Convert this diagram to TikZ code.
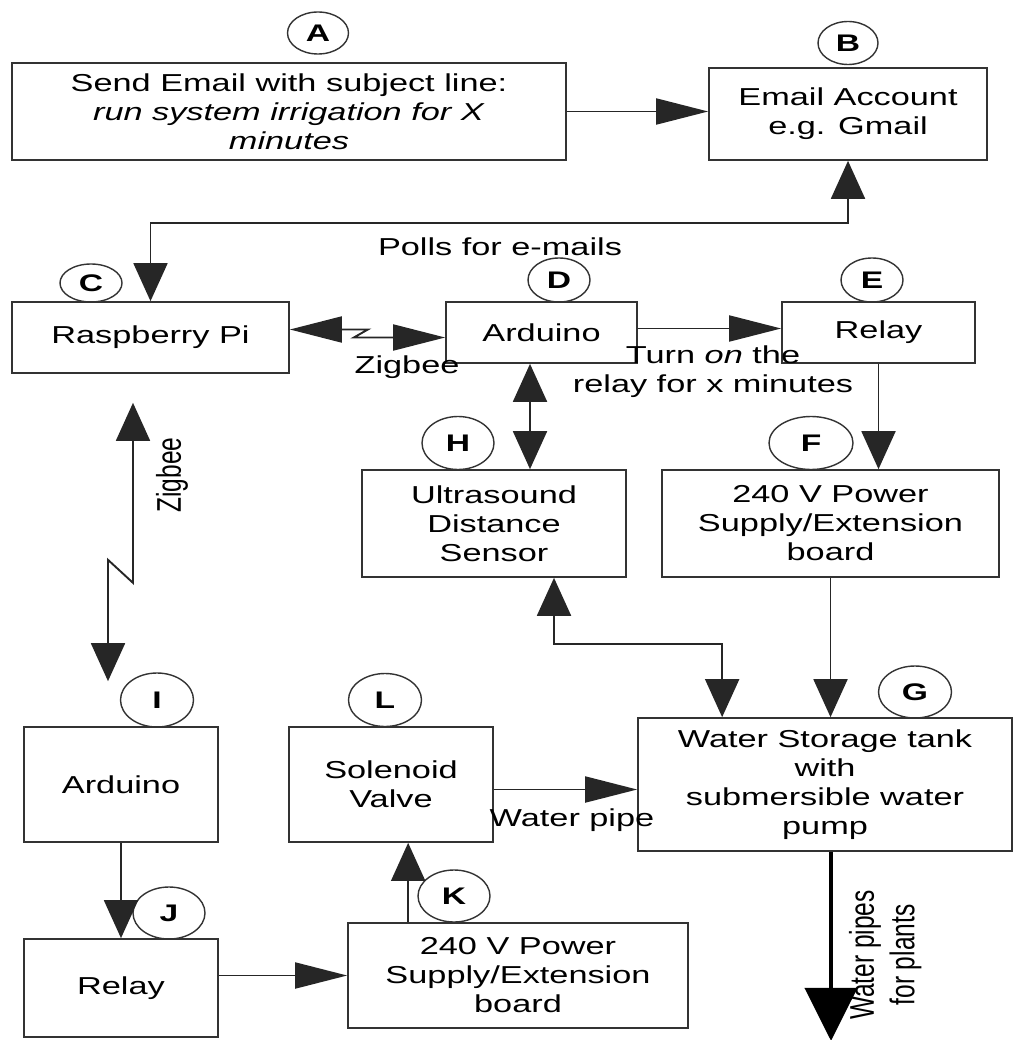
\documentclass[tikz,border=0pt]{standalone}
\usepackage{fontspec}
\usepackage{graphicx}
\setmainfont{Liberation Sans}[FakeStretch=1.4]
\newfontfamily\rotfont{Liberation Sans}
\usetikzlibrary{arrows.meta,shapes.geometric,calc}
\tikzset{
  vtip/.tip={Triangle[length=38pt,width=34pt]},
  htip/.tip={Triangle[length=52pt,width=26pt]},
}
\begin{document}
\begin{tikzpicture}[x=1pt,y=-1pt,
  box/.style={draw=black!80, line width=1.7pt, align=center, inner sep=0pt,
              font=\fontsize{24.5}{29}\selectfont},
  tag/.style={draw=black!80, line width=1.4pt, ellipse, inner sep=0pt,
              font=\bfseries\fontsize{24}{24}\selectfont},
  conn/.style={line width=1.9pt, draw=black!85},
  lbl/.style={inner sep=0pt, align=center, font=\fontsize{24.5}{29}\selectfont},
]
\fill[white] (0,0) rectangle (1014,1040);
\useasboundingbox (0,0) rectangle (1014,1040);

% boxes
\node[box, minimum width=554pt, minimum height=97pt] (A) at (289,111.5)
  {Send Email with subject line:\\\textit{run system irrigation for X}\\\textit{minutes}};
\node[box, minimum width=278pt, minimum height=92pt] (B) at (848,114)
  {Email Account\\e.g. Gmail};
\node[box, minimum width=277pt, minimum height=71pt] (C) at (150.5,337.5) {Raspberry Pi};
\node[box, minimum width=191pt, minimum height=61pt] (D) at (541.5,332.5) {Arduino};
\node[box, minimum width=193pt, minimum height=61pt] (E) at (878.5,332.5) {Relay};
\node[box, minimum width=264pt, minimum height=107pt] (H) at (494,523.5)
  {Ultrasound\\Distance\\Sensor};
\node[box, minimum width=337pt, minimum height=107pt] (F) at (830.5,523.5)
  {240 V Power\\Supply/Extension\\board};
\node[box, minimum width=374pt, minimum height=133pt] (G) at (825,784.5)
  {Water Storage tank\\with\\submersible water\\pump};
\node[box, minimum width=194pt, minimum height=115pt] (I) at (121,784.5) {Arduino};
\node[box, minimum width=194pt, minimum height=98pt] (J) at (121,988) {Relay};
\node[box, minimum width=204pt, minimum height=115pt] (L) at (391,784.5) {Solenoid\\Valve};
\node[box, minimum width=340pt, minimum height=105pt] (K) at (518,975.5)
  {240 V Power\\Supply/Extension\\board};

% letter tags
\node[tag, minimum width=61pt, minimum height=42pt] (cA) at (318,33) {A};
\node[tag, minimum width=60pt, minimum height=43pt] (cB) at (848,43) {B};
\node[tag, minimum width=62pt, minimum height=38pt] (cC) at (91,283) {C};
\node[tag, minimum width=62pt, minimum height=44pt] (cD) at (559,280) {D};
\node[tag, minimum width=62pt, minimum height=44pt] (cE) at (872,280) {E};
\node[tag, minimum width=72pt, minimum height=53pt] (cH) at (458,443) {H};
\node[tag, minimum width=84pt, minimum height=53pt] (cF) at (811,443) {F};
\node[tag, minimum width=73pt, minimum height=52pt] (cG) at (915,692) {G};
\node[tag, minimum width=73pt, minimum height=54pt] (cI) at (157,700) {I};
\node[tag, minimum width=73pt, minimum height=53pt] (cL) at (385,700) {L};
\node[tag, minimum width=72pt, minimum height=52pt] (cJ) at (169,913) {J};
\node[tag, minimum width=72pt, minimum height=52pt] (cK) at (454,896) {K};

% helper coordinates
\coordinate (dh) at ($(D.south)+(-11.5,0)$);
\coordinate (hg) at ($(H.south)+(60,0)$);
\coordinate (gi) at ($(G.north west)+(85,0)$);
\coordinate (go) at ($(G.south)+(6,0)$);
\coordinate (gend) at ($(go)+(0,189)$);
\coordinate (zt) at ($(C.south)+(-17.5,29)$);
\coordinate (zb) at ($(I.north)+(-13,-45)$);
\coordinate (kl) at ($(K.north west)+(61,0)$);
\coordinate (lg) at ($(L.east)+(0,5)$);
\coordinate (cd) at ($(C.east)+(0,-8)$);
\coordinate (dc) at ($(D.west)+(0,5)$);
\coordinate (de) at ($(D.east)+(0,-4)$);

% connectors
\draw[conn, -htip] (A.east) -- (A.east -| B.west);
\draw[conn, vtip-vtip] (B.south) -- ++(0,62) -| (C.north);
\draw[conn, htip-htip] (cd) -- ++(78,0) -- ++(-14,8) -- (dc);
\draw[conn, -htip] (de) -- (de -| E.west);
\draw[conn, vtip-vtip] (dh) -- (dh |- H.north);
\draw[conn, -vtip] (E.south) -- (E.south |- F.north);
\draw[conn, vtip-vtip] (hg) -- ++(0,66) -| (gi);
\draw[conn, -vtip] (F.south) -- (F.south |- G.north);
\draw[line width=4.5pt, draw=black, -{Triangle[length=53pt,width=52pt]}] (go) -- (gend);
\draw[conn, vtip-vtip] (zt) -- ++(0,180) -- ++(-25,-23) -- (zb);
\draw[conn, -vtip] (I.south) -- (J.north);
\draw[conn, -htip] (J.east |- K.west) -- (K.west);
\draw[conn, -vtip] (kl) -- (kl |- L.south);
\draw[conn, -htip] (lg) -- (lg -| G.west);

% labels
\node[lbl] (polls) at (500,247) {Polls for e-mails};
\node[lbl] (zig1) at (407,367) {Zigbee};
\node[lbl] (turn) at (713,372) {Turn \textit{on} the\\relay for x minutes};
\node[inner sep=0pt] (zig2) at (172,475)
  {\scalebox{1.4}[1]{\rotatebox{90}{\rotfont\fontsize{24.5}{29}\selectfont Zigbee}}};
\node[lbl] (wp) at (572,820) {Water pipe};
\node[inner sep=0pt] (wpp) at (886,955)
  {\scalebox{1.4}[1]{\rotatebox{90}{\rotfont\fontsize{24.5}{29}\selectfont
   \begin{tabular}{@{}c@{}}Water pipes\\for plants\end{tabular}}}};
\end{tikzpicture}
\end{document}
